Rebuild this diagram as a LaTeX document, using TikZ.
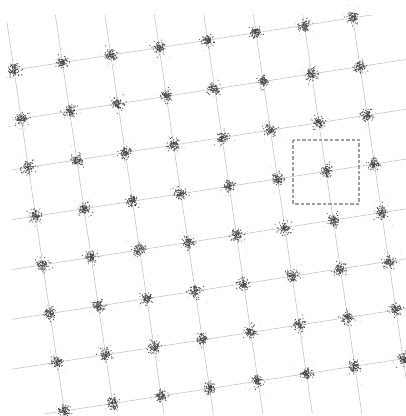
\documentclass[tikz,border=0pt]{standalone}
\begin{document}
\begin{tikzpicture}[x=1pt,y=-1pt,
  grid coords/.style={shift={(14pt,-70pt)},x={(48.4pt,7.45pt)},y={(7.2pt,-48.7pt)}},
  gridline/.style={gray!50,line width=0.55pt},
  spot/.style={fill=black!72},
  faint/.style={fill=black!30},
  zoombox/.style={draw=gray!75,line width=1.2pt,dash pattern=on 3.5pt off 2pt}]
  \useasboundingbox (0,0) rectangle (406,416);
  \pgfmathsetseed{11}
  \begin{scope}
    \clip (12,15) rectangle (406,413);
    \begin{scope}[grid coords]
      \foreach \j in {0,...,7} \draw[gridline] (-1,\j) -- (9,\j);
    \end{scope}
  \end{scope}
  \begin{scope}
    \clip (0,15) rectangle (406,413);
    \begin{scope}[grid coords]
      \foreach \i in {0,...,7} \draw[gridline] (\i,-1) -- (\i,9);
    \end{scope}
  \end{scope}
  \begin{scope}[grid coords]
    \foreach \i in {0,...,7}
      \foreach \j in {0,...,7} {
        \coordinate (p-\i-\j) at (\i,\j);
        \foreach \k in {1,...,12} {
          \pgfmathsetmacro\ang{360*rnd}
          \pgfmathsetmacro\rad{5.5*sqrt(-2*ln(0.001+0.999*rnd))}
          \fill[faint] (p-\i-\j) ++(\ang:\rad pt) circle[radius=0.45pt];
        }
        \foreach \k in {1,...,90} {
          \pgfmathsetmacro\ang{360*rnd}
          \pgfmathsetmacro\rad{2.9*sqrt(-2*ln(0.001+0.999*rnd))}
          \fill[spot] (p-\i-\j) ++(\ang:\rad pt) circle[radius=0.6pt];
        }
      }
  \end{scope}
  \draw[zoombox] ([shift={(-33pt,31.5pt)}]p-6-3) rectangle ([shift={(33pt,-32.5pt)}]p-6-3);
\end{tikzpicture}
\end{document}
